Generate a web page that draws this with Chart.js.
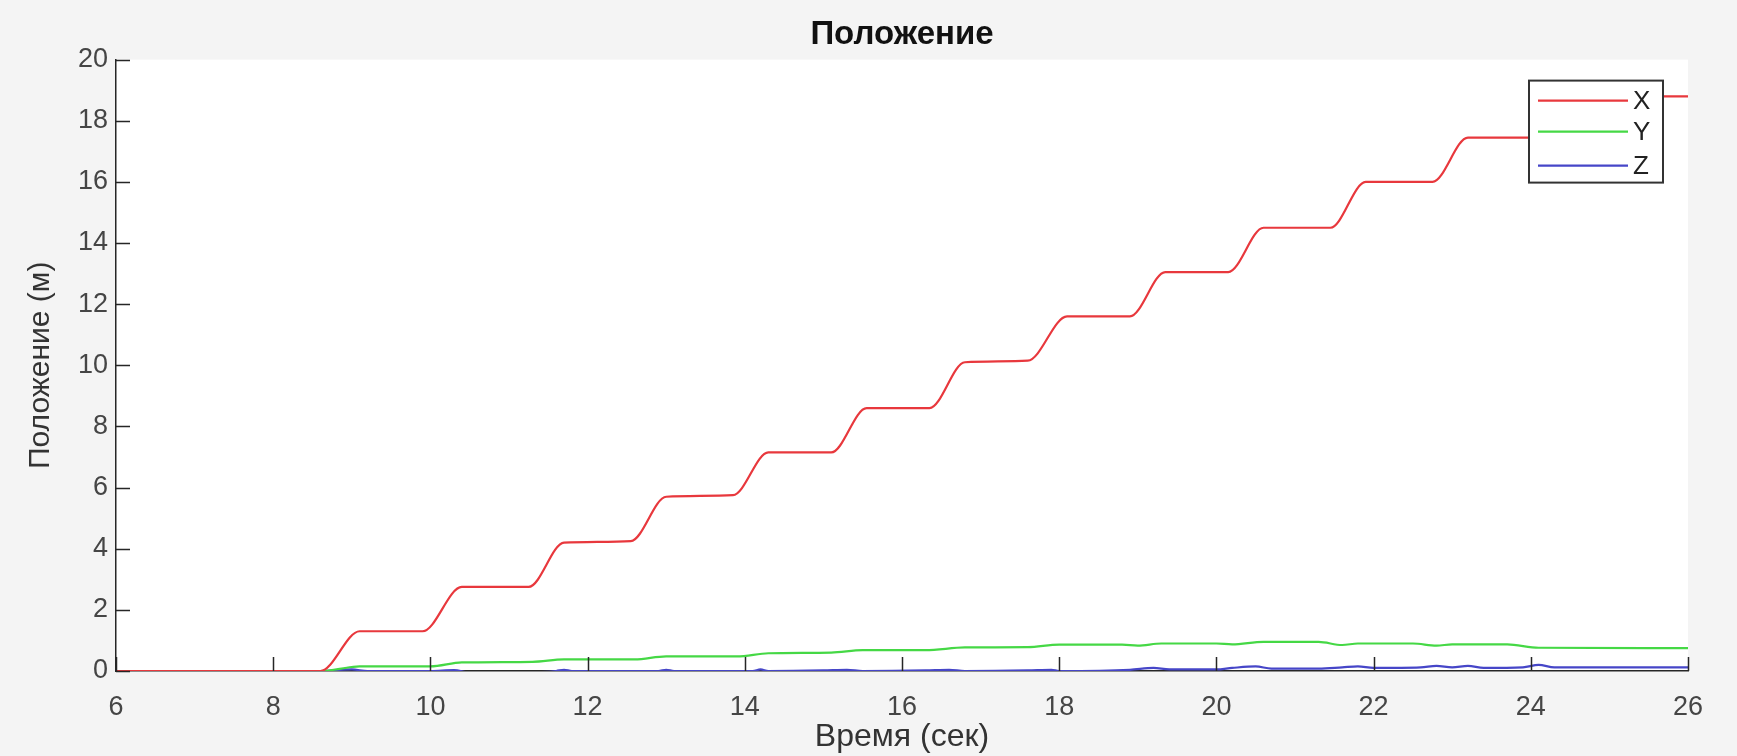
<!DOCTYPE html>
<html>
<head>
<meta charset="utf-8">
<script src="https://cdn.jsdelivr.net/npm/chart.js@4/dist/chart.umd.min.js"></script>
<style>
  html, body { margin: 0; padding: 0; background: #f4f4f4; }
  #wrap { width: 1737px; height: 756px; }
</style>
</head>
<body>
<div id="wrap"><canvas id="posChart" width="1737" height="756"></canvas></div>
<script>
// X position (m) over time (s)
const timeX = [6, 8.6, 9.1, 9.9, 10.4, 11.25, 11.7, 12.55, 13.0, 13.85, 14.3, 15.1, 15.55, 16.35, 16.8, 17.6, 18.1, 18.9, 19.35, 20.15, 20.6, 21.45, 21.9, 22.75, 23.2, 24.0, 24.45, 26];
const posX = [0, 0, 1.3, 1.3, 2.75, 2.75, 4.2, 4.25, 5.7, 5.75, 7.15, 7.15, 8.6, 8.6, 10.1, 10.15, 11.6, 11.6, 13.05, 13.05, 14.5, 14.5, 16.0, 16.0, 17.45, 17.45, 18.8, 18.8];

// Y position
const timeY = [6, 8.6, 9.0, 9.1, 10.0, 10.4, 11.3, 11.7, 12.6, 13.0, 13.9, 14.3, 15.1, 15.5, 16.3, 16.8, 17.6, 18.0, 18.8, 19.0, 19.3, 20.0, 20.2, 20.6, 21.3, 21.6, 21.8, 22.5, 22.8, 23.0, 23.7, 24.1, 26];
const posY = [0, 0, 0.13, 0.15, 0.15, 0.28, 0.3, 0.38, 0.38, 0.48, 0.48, 0.58, 0.6, 0.68, 0.68, 0.77, 0.78, 0.86, 0.86, 0.83, 0.9, 0.9, 0.87, 0.95, 0.95, 0.85, 0.9, 0.9, 0.83, 0.87, 0.87, 0.76, 0.75];

// Z position
const timeZ = [6, 8.6, 8.8, 9.0, 9.2, 10.0, 10.3, 10.5, 11.2, 11.6, 11.7, 11.8, 12.9, 13.0, 13.1, 14.1, 14.2, 14.3, 15.0, 15.3, 15.5, 16.3, 16.6, 16.8, 17.6, 17.9, 18.0, 18.9, 19.2, 19.4, 20.0, 20.2, 20.5, 20.7, 21.3, 21.6, 21.8, 22.0, 22.6, 22.8, 23.0, 23.2, 23.4, 23.9, 24.1, 24.3, 26];
const posZ = [0, 0, 0.03, 0.05, 0, 0, 0.03, -0.05, -0.05, 0, 0.04, 0, 0, 0.04, 0, 0, 0.05, 0, 0.02, 0.04, 0, 0.02, 0.04, 0, 0.02, 0.04, 0, 0.04, 0.1, 0.05, 0.05, 0.1, 0.15, 0.08, 0.08, 0.12, 0.15, 0.1, 0.12, 0.17, 0.12, 0.17, 0.1, 0.12, 0.2, 0.12, 0.12];

const seriesNames = ["X", "Y", "Z"];
const seriesColors = ["#e8383d", "#45d845", "#4646c8"];
const xTicks = [6, 8, 10, 12, 14, 16, 18, 20, 22, 24, 26];
const yTicks = [0, 2, 4, 6, 8, 10, 12, 14, 16, 18, 20];

const FONT = "'Liberation Sans', Arial, sans-serif";
const toPoints = (t, v) => t.map((x, i) => ({ x: x, y: v[i] }));

const bgPlugin = {
  id: "bg",
  beforeDraw(chart) {
    const { ctx, chartArea: a } = chart;
    ctx.save();
    ctx.fillStyle = "#f4f4f4";
    ctx.fillRect(0, 0, chart.width, chart.height);
    ctx.fillStyle = "#ffffff";
    ctx.fillRect(a.left, a.top, a.right - a.left, a.bottom - a.top);
    ctx.restore();
  },
};

// matlab style ticks pointing inward
const innerTicks = {
  id: "innerTicks",
  afterDatasetsDraw(chart) {
    const { ctx, chartArea: a, scales } = chart;
    ctx.save();
    ctx.strokeStyle = "#262626";
    ctx.lineWidth = 1.5;
    ctx.beginPath();
    scales.x.ticks.forEach((t) => {
      const px = Math.round(scales.x.getPixelForValue(t.value)) + 0.5;
      ctx.moveTo(px, a.bottom);
      ctx.lineTo(px, a.bottom - 14);
    });
    scales.y.ticks.forEach((t) => {
      const py = Math.round(scales.y.getPixelForValue(t.value)) + 0.5;
      ctx.moveTo(a.left, py);
      ctx.lineTo(a.left + 14, py);
    });
    ctx.stroke();
    ctx.restore();
  },
};

const boxLegend = {
  id: "boxLegend",
  afterDraw(chart) {
    const { ctx, chartArea: a } = chart;
    const right = a.right - 25, top = a.top + 21;
    const w = 134, h = 102;
    const left = right - w;
    ctx.save();
    ctx.fillStyle = "#ffffff";
    ctx.fillRect(left, top, w, h);
    ctx.strokeStyle = "#333333";
    ctx.lineWidth = 2;
    ctx.strokeRect(left, top, w, h);
    const rows = [20, 51, 85];
    ctx.font = "26px " + FONT;
    ctx.textBaseline = "middle";
    chart.data.datasets.forEach((ds, i) => {
      const y = top + rows[i];
      ctx.strokeStyle = ds.borderColor;
      ctx.lineWidth = 2.2;
      ctx.beginPath();
      ctx.moveTo(left + 9, y);
      ctx.lineTo(left + 99, y);
      ctx.stroke();
      ctx.fillStyle = "#222222";
      ctx.fillText(ds.label, left + 104, y + 1);
    });
    ctx.restore();
  },
};

new Chart(document.getElementById("posChart"), {
  type: "line",
  data: {
    datasets: [
      { label: seriesNames[0], data: toPoints(timeX, posX), borderColor: seriesColors[0] },
      { label: seriesNames[1], data: toPoints(timeY, posY), borderColor: seriesColors[1] },
      { label: seriesNames[2], data: toPoints(timeZ, posZ), borderColor: seriesColors[2] },
    ],
  },
  options: {
    responsive: false,
    animation: false,
    layout: { padding: { left: 0, right: 49, top: 0, bottom: 0 } },
    elements: {
      point: { radius: 0 },
      line: { borderWidth: 2.2, cubicInterpolationMode: "monotone", fill: false },
    },
    plugins: {
      legend: { display: false },
      tooltip: { enabled: false },
      title: {
        display: true,
        fullSize: false,
        text: "Положение",
        color: "#111111",
        font: { family: FONT, size: 33, weight: "bold" },
        padding: { top: 15, bottom: 5 },
      },
    },
    scales: {
      x: {
        type: "linear",
        min: 6,
        max: 26,
        afterBuildTicks: (s) => { s.ticks = xTicks.map((v) => ({ value: v })); },
        afterFit: (s) => { s.height = 85; },
        ticks: { color: "#454545", padding: 20, font: { family: FONT, size: 27 } },
        grid: { display: false, drawTicks: false },
        border: { display: true, color: "#262626", width: 1.5 },
        title: {
          display: true,
          text: "Время (сек)",
          color: "#333333",
          font: { family: FONT, size: 32 },
          padding: { top: 0, bottom: 0 },
        },
      },
      y: {
        min: 0,
        max: 20,
        afterBuildTicks: (s) => { s.ticks = yTicks.map((v) => ({ value: v })); },
        afterFit: (s) => { s.width = 116; },
        ticks: { color: "#454545", padding: 8, font: { family: FONT, size: 27 } },
        grid: { display: false, drawTicks: false },
        border: { display: true, color: "#262626", width: 1.5 },
        title: {
          display: true,
          text: "Положение (м)",
          color: "#333333",
          font: { family: FONT, size: 30 },
          padding: { top: 23, bottom: 0 },
        },
      },
    },
  },
  plugins: [bgPlugin, innerTicks, boxLegend],
});
</script>
</body>
</html>
